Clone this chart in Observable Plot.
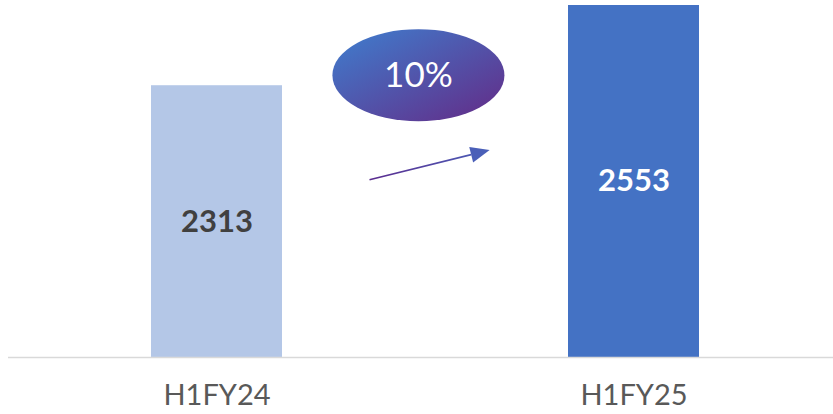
<!DOCTYPE html>
<html>
<head>
<meta charset="utf-8">
<script src="https://cdn.jsdelivr.net/npm/d3@7"></script>
<script src="https://cdn.jsdelivr.net/npm/@observablehq/plot@0.6"></script>
<style>
  html, body { margin: 0; padding: 0; background: #fff; }
  #chart { width: 833px; height: 414px; }
</style>
</head>
<body>
<div id="chart"></div>
<script>
const categories = ["H1FY24", "H1FY25"];
const values = [2313, 2553];
const barColors = ["#b4c7e7", "#4472c4"];
const labelColors = ["#404040", "#ffffff"];
const growthLabel = "10%";
const yMin = 1500;

const data = categories.map((c, i) => ({cat: c, value: values[i], fill: barColors[i], lc: labelColors[i]}));

const plot = Plot.plot({
  width: 833,
  height: 414,
  marginTop: 5,
  marginBottom: 57,
  marginLeft: 8,
  marginRight: 0,
  style: {fontFamily: "Lato, sans-serif", background: "#fff"},
  x: {domain: categories, range: [151, 699], paddingInner: 0.686, paddingOuter: 0, label: null},
  y: {domain: [yMin, values[1]], axis: null},
  marks: [
    Plot.barY(data, {x: "cat", y1: () => yMin, y2: "value", fill: "fill"}),
    Plot.ruleY([yMin], {stroke: "#d9d9d9", strokeWidth: 1.6}),
    Plot.text(data, {x: "cat", y: d => (yMin + d.value) / 2, text: d => String(d.value), fill: "lc",
      fontSize: 31, fontWeight: "bold", fontFamily: "Lato, sans-serif"}),
    Plot.axisX({tickSize: 0, tickPadding: 27, fontSize: 29, fill: "#595959", label: null, fontFamily: "Lato, sans-serif"})
  ]
});

document.getElementById("chart").appendChild(plot);

// annotation: growth ellipse + arrow, positioned from scales
const xs = plot.scale("x");
const ys = plot.scale("y");
const svg = d3.select(plot);
const bw = xs.bandwidth;
const leftEnd = xs.apply(categories[0]) + bw;
const rightStart = xs.apply(categories[1]);
const gap = rightStart - leftEnd;
const cx = leftEnd + gap * 0.477;
const cy = ys.apply(2343);

const defs = svg.append("defs");
const g1 = defs.append("linearGradient").attr("id", "ellGrad")
  .attr("x1", "0%").attr("y1", "0%").attr("x2", "100%").attr("y2", "100%");
g1.append("stop").attr("offset", "15%").attr("stop-color", "#4472c4");
g1.append("stop").attr("offset", "100%").attr("stop-color", "#642a86");

const g2 = defs.append("linearGradient").attr("id", "arrGrad")
  .attr("gradientUnits", "userSpaceOnUse")
  .attr("x1", leftEnd + gap * 0.306).attr("y1", 0).attr("x2", leftEnd + gap * 0.726).attr("y2", 0);
g2.append("stop").attr("offset", "0%").attr("stop-color", "#5b2c8f");
g2.append("stop").attr("offset", "100%").attr("stop-color", "#4a5fb8");

svg.append("ellipse")
  .attr("cx", cx).attr("cy", cy).attr("rx", 86).attr("ry", 46)
  .attr("fill", "url(#ellGrad)");
svg.append("text")
  .attr("x", cx).attr("y", cy).attr("dy", "0.35em")
  .attr("text-anchor", "middle")
  .attr("fill", "#fff")
  .attr("font-family", "Lato, sans-serif")
  .attr("font-weight", 400)
  .attr("font-size", 35)
  .text(growthLabel);

// arrow
const ax1 = leftEnd + gap * 0.306, ay1 = ys.apply(2030);
const ax2 = leftEnd + gap * 0.726, ay2 = ys.apply(2119);
const ang = Math.atan2(ay2 - ay1, ax2 - ax1);
const headLen = 19, headW = 8;
const bx = ax2 - headLen * Math.cos(ang), by = ay2 - headLen * Math.sin(ang);
svg.append("line")
  .attr("x1", ax1).attr("y1", ay1).attr("x2", bx).attr("y2", by)
  .attr("stroke", "url(#arrGrad)").attr("stroke-width", 1.6);
const px = -Math.sin(ang), py = Math.cos(ang);
svg.append("path")
  .attr("d", `M${ax2},${ay2}L${bx + px * headW},${by + py * headW}L${bx - px * headW},${by - py * headW}Z`)
  .attr("fill", "#4a5fb8");
</script>
</body>
</html>
